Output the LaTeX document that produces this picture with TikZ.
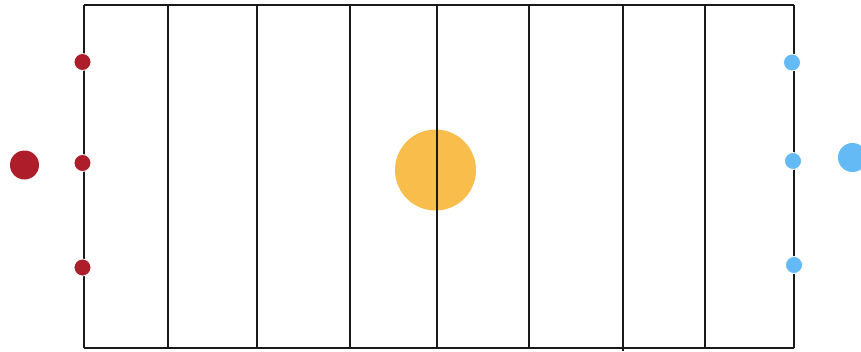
\documentclass[tikz,border=0pt]{standalone}
\usepackage{tikz}
\definecolor{homered}{RGB}{174,30,42}
\definecolor{awayblue}{RGB}{100,186,245}
\definecolor{ballorange}{RGB}{249,189,75}
\begin{document}
\begin{tikzpicture}[x=1pt,y=-1pt]
    \useasboundingbox (0,0) rectangle (861,351);
    \tikzset{
        fieldline/.style={line width=1.4pt,black!90},
        smalldot/.style={circle,inner sep=0pt,minimum size=17pt,draw=white,line width=0.8pt},
        bigdot/.style={circle,inner sep=0pt,minimum size=29pt}
    }

    % Ball
    \node[circle,inner sep=0pt,minimum size=81pt,fill=ballorange] (ball) at (435.5,170) {};

    % Field outline
    \draw[fieldline] (84,5) -- (794,5);
    \draw[fieldline] (84,348) -- (794,348);
    \draw[fieldline] (84,5) -- (84,348);
    \draw[fieldline] (794,5) -- (794,348);

    % Yard lines
    \foreach \x in {168,257,350,437,529,705}
        \draw[fieldline] (\x,4) -- (\x,348);
    \draw[fieldline] (623,4) -- (623,351);

    % Red team
    \node[smalldot,fill=homered] (r1) at (82.5,62) {};
    \node[smalldot,fill=homered] (r2) at (82.5,163) {};
    \node[smalldot,fill=homered] (r3) at (82.5,267.5) {};
    \node[bigdot,fill=homered] (rbig) at (24.5,165) {};

    % Blue team
    \node[smalldot,fill=awayblue] (b1) at (792,62.5) {};
    \node[smalldot,fill=awayblue] (b2) at (793,161) {};
    \node[smalldot,fill=awayblue] (b3) at (794,265) {};
    \node[bigdot,fill=awayblue] (bbig) at (852.5,157.5) {};
\end{tikzpicture}
\end{document}
